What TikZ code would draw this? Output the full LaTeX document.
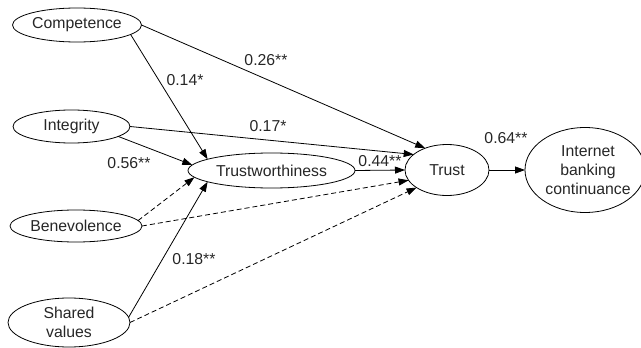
\documentclass[tikz,border=0pt]{standalone}
\usepackage{fontspec}
\setmainfont{Liberation Sans}
\usetikzlibrary{shapes.geometric,arrows.meta}
\begin{document}
\begin{tikzpicture}[x=1pt,y=-1pt,
 ell/.style={draw, ellipse, inner sep=0pt, outer sep=0pt, line width=0.8pt},
 txt/.style={align=center, font=\fontsize{15.8}{19}\selectfont, inner sep=0pt, text=black!85},
 lbl/.style={font=\fontsize{15.8}{19}\selectfont, inner sep=0pt, text=black!85},
 arr/.style={line width=0.8pt, -{Triangle[length=10pt,width=7pt]}},
 darr/.style={arr, dash pattern=on 5pt off 3pt}]
\useasboundingbox (0,0) rectangle (641,348);
\node[ell, minimum width=129pt, minimum height=34pt, label={[txt]center:Competence}] (comp) at (77,25) {};
\node[ell, minimum width=117pt, minimum height=33pt, label={[txt]center:Integrity}] (integ) at (71.5,126.5) {};
\node[ell, minimum width=132pt, minimum height=32pt, label={[txt]center:Benevolence}] (bene) at (76,226) {};
\node[ell, minimum width=122pt, minimum height=49pt, label={[txt]center:Shared\\values}] (shared) at (69,322.5) {};
\node[ell, minimum width=167pt, minimum height=35pt, label={[txt]center:Trustworthiness}] (tw) at (271.5,170.5) {};
\node[ell, minimum width=84pt, minimum height=51pt, label={[txt]center:Trust}] (trust) at (447,170) {};
\node[ell, minimum width=120pt, minimum height=85pt, label={[txt, xshift=3pt]center:Internet\\banking\\continuance}] (ibc) at (585,170) {};

\draw[arr] (comp.east) -- (trust.135);
\draw[arr] (comp.-10) -- (tw.170);
\draw[arr] (integ.east) -- (trust.155);
\draw[arr] (integ.-12) -- (tw.176);
\draw[darr] (bene.5) -- (tw.185);
\draw[darr] (bene.east) -- (trust.195);
\draw[arr] (shared.5) -- (tw.190);
\draw[darr] (shared.east) -- (trust.210);
\draw[arr] (tw.east) -- (trust.west);
\draw[arr] (trust.east) -- (ibc.west);

\node[lbl] (l1) at (266,60) {0.26**};
\node[lbl] (l2) at (185,80) {0.14*};
\node[lbl] (l3) at (268,126) {0.17*};
\node[lbl] (l4) at (129,163) {0.56**};
\node[lbl] (l5) at (194,259) {0.18**};
\node[lbl] (l6) at (380,161) {0.44**};
\node[lbl] (l7) at (506,138) {0.64**};
\end{tikzpicture}
\end{document}
